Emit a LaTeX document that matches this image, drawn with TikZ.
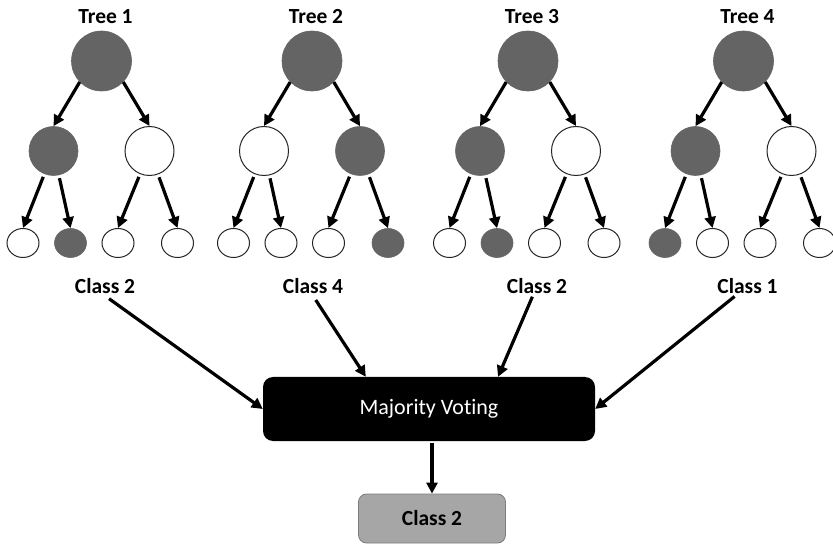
\documentclass[tikz,border=0pt]{standalone}
\usepackage{fontspec}
\setmainfont{Carlito}[Ligatures=NoCommon]
\usetikzlibrary{arrows.meta,shapes.geometric}
\definecolor{darknode}{RGB}{100,100,100}
\definecolor{resultfill}{RGB}{166,166,166}
\definecolor{resultdraw}{RGB}{125,125,125}
\begin{document}
\begin{tikzpicture}[x=1pt,y=-1pt,
  rootnode/.style={circle,inner sep=0pt,minimum size=60pt},
  midnode/.style={circle,inner sep=0pt,minimum size=49pt},
  leafnode/.style={ellipse,inner sep=0pt,minimum width=32pt,minimum height=29pt},
  filled/.style={fill=darknode,draw=darknode,line width=0.6pt},
  hollow/.style={fill=white,draw=black!85,line width=1pt},
  branch/.style={line width=3.2pt,-{Triangle[length=11pt,width=11pt]}},
  treetitle/.style={font=\bfseries\fontsize{21.5}{25}\selectfont},
  classlabel/.style={font=\bfseries\fontsize{21.5}{25}\selectfont,inner sep=2pt},
  votebox/.style={fill=black,text=white,rounded corners=10pt,minimum width=332pt,
    minimum height=64pt,font=\fontsize{22}{26}\selectfont},
  resultbox/.style={fill=resultfill,draw=resultdraw,line width=0.8pt,rounded corners=8pt,
    minimum width=147pt,minimum height=49pt,font=\bfseries\fontsize{21.5}{25}\selectfont}
]
\useasboundingbox[fill=white] (0,0) rectangle (833,545);

% four decision trees: root, two inner nodes, four leaves
\foreach \i/\cx/\ma/\mb/\la/\lb/\lc/\ld in {
  1/101.5/filled/hollow/hollow/filled/hollow/hollow,
  2/312/hollow/filled/hollow/hollow/hollow/filled,
  3/528/filled/hollow/hollow/filled/hollow/hollow,
  4/743.5/filled/hollow/filled/hollow/hollow/hollow}{
  \node[treetitle] (title\i) at (\cx+4,17) {Tree \i};
  \node[rootnode,filled] (r\i) at (\cx,61) {};
  \node[midnode,\ma] (ma\i) at (\cx-48,151) {};
  \node[midnode,\mb] (mb\i) at (\cx+48,151) {};
  \node[leafnode,\la] (la\i) at (\cx-78.5,243) {};
  \node[leafnode,\lb] (lb\i) at (\cx-31,243) {};
  \node[leafnode,\lc] (lc\i) at (\cx+16.5,243) {};
  \node[leafnode,\ld] (ld\i) at (\cx+76,243) {};
  \draw[branch] (r\i.224) -- (ma\i.north);
  \draw[branch] (r\i.316) -- (mb\i.north);
  \draw[branch,shorten <=3pt] (ma\i) -- (la\i.north);
  \draw[branch,shorten <=3pt] (ma\i) -- (lb\i.north);
  \draw[branch,shorten <=3pt] (mb\i) -- (lc\i.north);
  \draw[branch,shorten <=3pt] (mb\i) -- (ld\i.north);
}

% predictions of the trees
\node[classlabel] (c1) at (105,286) {Class 2};
\node[classlabel] (c2) at (313,286) {Class 4};
\node[classlabel] (c3) at (537,286) {Class 2};
\node[classlabel] (c4) at (747.5,286) {Class 1};

% aggregation and final result
\node[votebox] (vote) at (429,409) {Majority Voting};
\node[resultbox] (res) at (432,518.5) {Class 2};

\draw[branch,shorten <=5pt] (c1.south) -- (vote.west);
\draw[branch,shorten <=5pt] (c2.south) -- (vote.153.4);
\draw[branch,shorten <=1pt] (c3) -- (vote.25.2);
\draw[branch,shorten <=1pt] (c4) -- (vote.east);
\draw[branch,shorten <=2pt] (vote.south -| res.north) -- (res.north);
\end{tikzpicture}
\end{document}
